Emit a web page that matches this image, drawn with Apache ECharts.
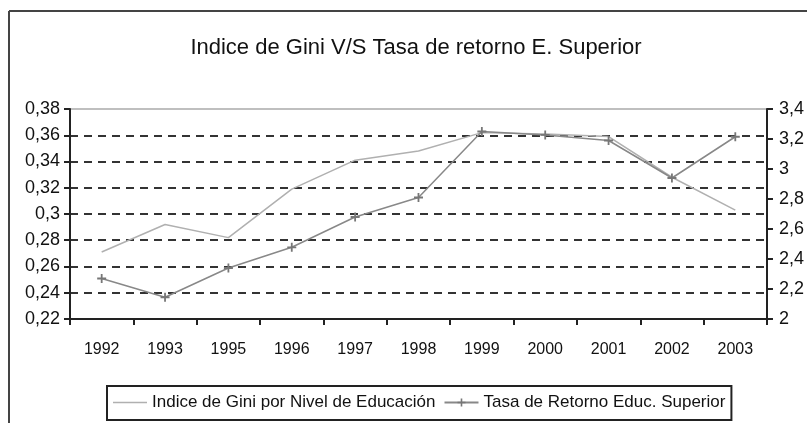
<!DOCTYPE html>
<html>
<head>
<meta charset="utf-8">
<script src="https://cdn.jsdelivr.net/npm/echarts@6/dist/echarts.min.js"></script>
<style>
html,body{margin:0;padding:0;background:#fff;}
#chart{width:807px;height:423px;}
</style>
</head>
<body>
<div id="chart"></div>
<script>
const titleText = 'Indice de Gini V/S Tasa de retorno E. Superior';
const years = ['1992','1993','1995','1996','1997','1998','1999','2000','2001','2002','2003'];
const giniName = 'Indice de Gini por Nivel de Educación';
const tasaName = 'Tasa de Retorno Educ. Superior';
const giniValues = [0.271, 0.292, 0.282, 0.319, 0.341, 0.348, 0.362, 0.361, 0.359, 0.328, 0.303];
const tasaValues = [2.27, 2.145, 2.34, 2.478, 2.68, 2.81, 3.25, 3.227, 3.19, 2.94, 3.215];

const sans = "'Liberation Sans', Arial, sans-serif";
const fmt = v => String(+(+v).toFixed(2)).replace('.', ',');

const chart = echarts.init(document.getElementById('chart'));
chart.setOption({
  animation: false,
  backgroundColor: '#fff',
  title: {
    text: titleText,
    left: 411, top: 32, textAlign: 'center',
    textStyle: { fontFamily: sans, fontSize: 22, fontWeight: 'normal', color: '#111' }
  },
  graphic: [
    { type: 'line', shape: { x1: 9, y1: 11, x2: 807, y2: 11 }, style: { stroke: '#444', lineWidth: 2 } },
    { type: 'line', shape: { x1: 9, y1: 11, x2: 9, y2: 423 }, style: { stroke: '#444', lineWidth: 2 } }
  ],
  legend: {
    left: 107, top: 386,
    padding: [8, 6, 9, 6],
    borderColor: '#222', borderWidth: 2,
    itemWidth: 34, itemHeight: 10, itemGap: 8,
    textStyle: { fontFamily: sans, fontSize: 17, color: '#111' },
    data: [
      { name: giniName, icon: 'path://M0,0 M0,4.3 H34 V5.7 H0 Z M34,10' },
      tasaName
    ]
  },
  grid: {
    left: 70, right: 37, top: 109, bottom: 104,
    show: true, borderColor: '#aaa', borderWidth: 1.5
  },
  xAxis: {
    type: 'category', data: years, boundaryGap: true,
    axisLine: { lineStyle: { color: '#222', width: 2 } },
    axisTick: { show: true, length: 6, lineStyle: { color: '#222', width: 2 } },
    axisLabel: { margin: 23, fontFamily: sans, fontSize: 16, color: '#111' }
  },
  yAxis: [
    {
      type: 'value', min: 0.22, max: 0.38, interval: 0.02, position: 'left',
      axisLine: { show: true, lineStyle: { color: '#222', width: 2 } },
      axisTick: { show: true, length: 6, lineStyle: { color: '#222', width: 2 } },
      axisLabel: { margin: 10, fontFamily: sans, fontSize: 18, color: '#111', formatter: fmt },
      splitLine: { show: true, lineStyle: { type: [8, 6], width: 2,
        color: ['transparent','#333','#333','#333','#333','#333','#333','#333','transparent'] } }
    },
    {
      type: 'value', min: 2, max: 3.4, interval: 0.2, position: 'right',
      axisLine: { show: true, lineStyle: { color: '#222', width: 2 } },
      axisTick: { show: true, length: 6, lineStyle: { color: '#222', width: 2 } },
      axisLabel: { margin: 12, fontFamily: sans, fontSize: 18, color: '#111', formatter: fmt },
      splitLine: { show: false }
    }
  ],
  series: [
    {
      name: giniName, type: 'line', yAxisIndex: 0, data: giniValues,
      symbol: 'none', lineStyle: { color: '#b0b0b0', width: 1.5 }, itemStyle: { color: '#b0b0b0' }
    },
    {
      name: tasaName, type: 'line', yAxisIndex: 1, data: tasaValues,
      symbol: 'path://M4,0 H6 V4 H10 V6 H6 V10 H4 V6 H0 V4 H4 Z', symbolSize: 9,
      lineStyle: { color: '#888', width: 1.5 }, itemStyle: { color: '#777' }
    }
  ]
});
</script>
</body>
</html>
